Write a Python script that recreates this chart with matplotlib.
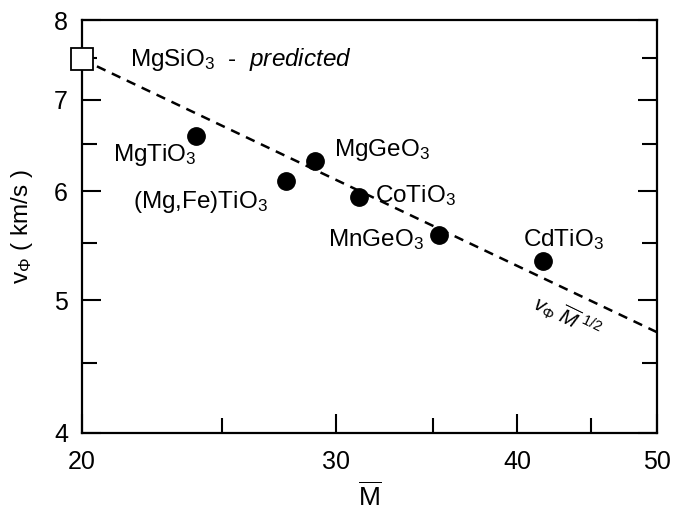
import numpy as np
import matplotlib.pyplot as plt
from matplotlib.ticker import FixedLocator, NullFormatter

plt.rcParams["font.family"] = "Liberation Sans"
plt.rcParams["mathtext.fontset"] = "custom"
plt.rcParams["mathtext.rm"] = "Liberation Sans"
plt.rcParams["mathtext.it"] = "Liberation Sans:italic"
plt.rcParams["mathtext.bf"] = "Liberation Sans:bold"

# Measured perovskites: mean atomic weight vs bulk sound velocity
names = ["MgTiO$_3$", "(Mg,Fe)TiO$_3$", "MgGeO$_3$", "CoTiO$_3$", "MnGeO$_3$", "CdTiO$_3$"]
m_bar = [24.0, 27.7, 29.0, 31.1, 35.3, 41.7]
v_phi = [6.58, 6.11, 6.31, 5.94, 5.58, 5.34]

# Predicted MgSiO3 point
m_pred = 20.0
v_pred = 7.49

# label anchors (data coords)
label_x = [21.0, 21.7, 29.9, 31.9, 29.6, 40.4]
label_y = [6.38, 5.89, 6.43, 5.96, 5.53, 5.53]

fig = plt.figure(figsize=(6.75, 5.16), dpi=100)
ax = fig.add_axes([0.1215, 0.1609, 0.8518, 0.8003])
ax.set_xscale("log")
ax.set_yscale("log")
ax.set_xlim(20, 50)
ax.set_ylim(4, 8)

# v_phi ~ M^-1/2 through the predicted point
mm = np.linspace(20, 50, 200)
ax.plot(mm, v_pred * (mm / m_pred) ** -0.5, color="black", lw=1.8,
        linestyle=(0, (3.8, 2.8)), zorder=2)

ax.plot(m_bar, v_phi, "o", color="black", ms=12.5, zorder=3)
ax.plot([m_pred], [v_pred], "s", mfc="white", mec="black", mew=1.3,
        ms=15.5, zorder=4, clip_on=False)

for name, lx, ly in zip(names, label_x, label_y):
    ax.text(lx, ly, name, fontsize=17.5, ha="left", va="center")

ax.text(21.6, v_pred, r"MgSiO$_3$  -  $\it{predicted}$", fontsize=17.5,
        ha="left", va="center")

ax.text(43.3, 4.86, r"$\it{v}_{\Phi}\ \overline{\it{M}}^{\ 1/2}$", fontsize=15,
        ha="center", va="center", rotation=-26)

# ticks
ax.xaxis.set_major_locator(FixedLocator([20, 30, 40, 50]))
ax.xaxis.set_minor_locator(FixedLocator([25, 35, 45]))
ax.yaxis.set_major_locator(FixedLocator([4, 5, 6, 7, 8]))
ax.yaxis.set_minor_locator(FixedLocator([4.5, 5.5, 6.5, 7.5]))
ax.set_xticklabels(["20", "30", "40", "50"])
ax.set_yticklabels(["4", "5", "6", "7", "8"])
ax.xaxis.set_minor_formatter(NullFormatter())
ax.yaxis.set_minor_formatter(NullFormatter())
ax.tick_params(which="both", direction="in", width=1.5, labelsize=18,
               left=True, right=True, bottom=True, top=False)
ax.tick_params(which="major", length=14)
ax.tick_params(axis="x", which="major", pad=12)
ax.tick_params(axis="y", which="major", pad=10)
ax.tick_params(which="minor", length=11)
for s in ax.spines.values():
    s.set_linewidth(1.6)

ax.set_xlabel(r"$\overline{\mathrm{M}}$", fontsize=19, labelpad=6)
ax.set_ylabel(r"v$_{\Phi}$ ( km/s )", fontsize=17.5, labelpad=14)

fig.savefig("out.png", dpi=100)
